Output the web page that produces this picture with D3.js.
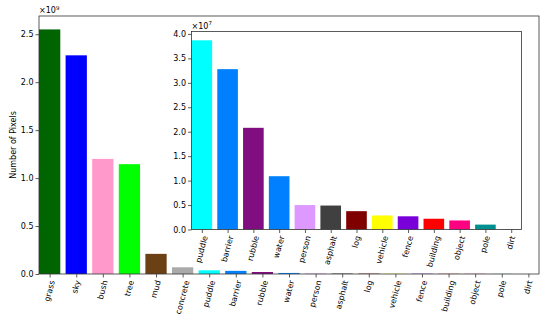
<!DOCTYPE html>
<html>
<head>
<meta charset="utf-8">
<script src="https://cdn.jsdelivr.net/npm/d3@7"></script>
<style>
  body { margin: 0; background: #fff; }
  svg text { font-family: "DejaVu Sans", sans-serif; fill: #000; }
</style>
</head>
<body>
<svg id="chart" width="550" height="323"></svg>
<script>
// all classes, pixel counts (x1e9)
let classes = ['grass','sky','bush','tree','mud','concrete','puddle','barrier','rubble','water','person','asphalt','log','vehicle','fence','building','object','pole','dirt']
let counts = [2.55, 2.28, 1.20, 1.145, 0.21, 0.07, 0.0387, 0.0328, 0.0208, 0.0109, 0.005, 0.0049, 0.00375, 0.00287, 0.0027, 0.0022, 0.00185, 0.001, 0.00005]
let colors = ['#006400','#0000ff','#ff99cc','#00ff00','#6b4014','#aaaaaa','#00ffff','#0080ff','#800e80','#0080ff','#dd99ff','#404040','#800000','#ffff00','#7a00d9','#ff0000','#ff0080','#009090','#8b5a2b']

// zoomed inset, small classes (x1e7)
let smallClasses = classes.slice(6)
let smallCounts = [3.87, 3.28, 2.08, 1.09, 0.50, 0.49, 0.375, 0.287, 0.27, 0.22, 0.185, 0.10, 0.005]
let smallColors = colors.slice(6)

let mainTicks = [0, 0.5, 1.0, 1.5, 2.0, 2.5]
let insetTicks = [0, 0.5, 1.0, 1.5, 2.0, 2.5, 3.0, 3.5, 4.0]

let svg = d3.select('#chart')

let drawPanel = (opt) => {
  let g = svg.append('g')
  let x = d3.scaleLinear().domain([-0.4, opt.names.length - 0.6]).range([opt.left, opt.right])
  let y = d3.scaleLinear().domain([0, opt.ymax]).range([opt.bottom, opt.top])

  g.append('rect')
    .attr('x', opt.left).attr('y', opt.top)
    .attr('width', opt.right - opt.left).attr('height', opt.bottom - opt.top)
    .attr('fill', '#fff')

  let bw = (x(1) - x(0)) * 0.8
  g.selectAll('.bar')
    .data(opt.values)
    .enter()
    .append('rect')
    .attr('x', (d, i) => x(i) - bw / 2)
    .attr('y', d => y(d))
    .attr('width', bw)
    .attr('height', d => opt.bottom - y(d))
    .attr('fill', (d, i) => opt.colors[i])

  // frame
  g.append('rect')
    .attr('x', opt.left).attr('y', opt.top)
    .attr('width', opt.right - opt.left).attr('height', opt.bottom - opt.top)
    .attr('fill', 'none').attr('stroke', '#333').attr('stroke-width', 0.8)

  // y axis
  let yAxis = g.append('g')
    .attr('transform', `translate(${opt.left},0)`)
    .call(d3.axisLeft(y).tickValues(opt.ticks).tickFormat(d3.format('.1f')).tickSize(3.5).tickPadding(2))
  yAxis.select('.domain').remove()
  yAxis.selectAll('line').attr('stroke', '#333').attr('stroke-width', 0.8)
  yAxis.selectAll('text').style('font-size', '8px').style('font-family', 'DejaVu Sans')

  // x axis
  let xAxis = g.append('g')
    .attr('transform', `translate(0,${opt.bottom})`)
    .call(d3.axisBottom(x).tickValues(d3.range(opt.names.length)).tickFormat('').tickSize(3.5))
  xAxis.select('.domain').remove()
  xAxis.selectAll('line').attr('stroke', '#333').attr('stroke-width', 0.8)

  // rotated labels, matplotlib style (rotation 75, centred, top aligned)
  let ang = 75 * Math.PI / 180
  opt.names.forEach((name, i) => {
    let t = g.append('text')
      .text(name)
      .attr('text-anchor', 'middle')
      .attr('dominant-baseline', 'central')
      .style('font-size', '8px')
    let L = t.node().getComputedTextLength()
    let h = 8
    let hh = (L * Math.sin(ang) + h * Math.cos(ang)) / 2
    let cx = x(i)
    let cy = opt.bottom + 5.5 + hh
    t.attr('transform', `translate(${cx},${cy}) rotate(-75)`)
  })

  // offset label
  g.append('text')
    .attr('x', opt.left)
    .attr('y', opt.top - 3)
    .style('font-size', '8px')
    .text('\u00d710')
    .append('tspan')
    .attr('dy', -3.5)
    .style('font-size', '5.5px')
    .text(opt.exp)
}

drawPanel({
  names: classes, values: counts, colors: colors,
  left: 39, right: 539, top: 16, bottom: 274, ymax: 2.69, ticks: mainTicks, exp: '9'
})

drawPanel({
  names: smallClasses, values: smallCounts, colors: smallColors,
  left: 191.5, right: 521.5, top: 31.5, bottom: 229.5, ymax: 4.05, ticks: insetTicks, exp: '7'
})

svg.append('text')
  .attr('transform', 'translate(13,145) rotate(-90)')
  .attr('text-anchor', 'middle')
  .attr('dominant-baseline', 'central')
  .style('font-size', '8px')
  .text('Number of Pixels')
</script>
</body>
</html>
